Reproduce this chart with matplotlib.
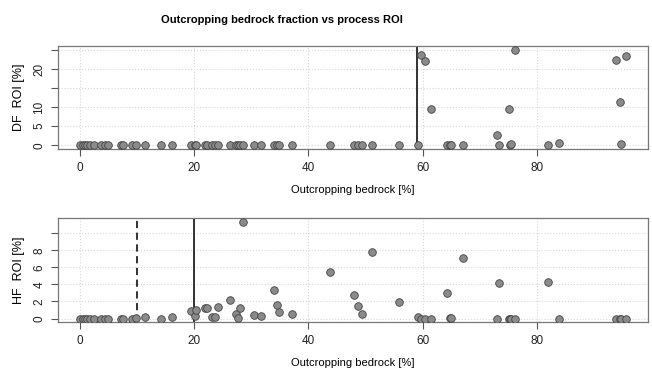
import matplotlib
matplotlib.use('Agg')
import matplotlib.pyplot as plt

# Data
bedrock = [0.0, 0.5, 0.9, 1.3, 1.8, 2.5, 3.7, 4.4, 5.0, 7.2, 7.6, 9.1, 9.8,
           11.4, 14.2, 16.1, 19.5, 20.2, 20.4, 21.9, 22.3, 23.1, 23.6, 24.1,
           26.3, 27.3, 27.6, 28.0, 28.6, 30.5, 31.7, 34.0, 34.5, 34.8, 37.1,
           43.8, 48.0, 48.7, 49.4, 51.1, 55.8, 59.2, 59.6, 60.4, 61.4,
           64.2, 64.7, 65.0, 67.1, 73.0, 73.4, 75.0, 75.3, 75.5, 76.2,
           81.9, 83.9, 93.8, 94.5, 94.6, 95.6]
df_roi = [0, 0, 0, 0, 0, 0, 0, 0, 0, 0, 0, 0, 0,
          0, 0, 0, 0, 0, 0, 0, 0, 0, 0, 0,
          0, 0, 0, 0, 0, 0, 0, 0, 0, 0, 0,
          0, 0, 0, 0, 0, 0, 0, 23.8, 22.0, 9.4,
          0, 0, 0, 0, 2.7, 0, 9.4, 0, 0.3, 25.1,
          0, 0.5, 22.3, 11.4, 0.3, 23.3]
hf_roi = [0, 0, 0, 0, 0, 0, 0, 0, 0, 0, 0, 0, 0.05,
          0.15, 0, 0.15, 0.86, 0.35, 0.98, 1.29, 1.25, 0.15, 0.15, 1.4,
          2.15, 0.55, 0.1, 1.2, 11.37, 0.39, 0.27, 3.33, 1.53, 0.74, 0.55,
          5.5, 2.74, 1.45, 0.5, 7.8, 1.96, 0.2, 0, 0, 0,
          2.94, 0.1, 0.1, 7.06, 0, 4.15, 0, 0, 0, 0,
          4.3, 0, 0, 0, 0, 0]

df_threshold = 59.0
hf_thresholds = [10.0, 20.0]

df_ticks = [0, 5, 10, 15, 20, 25]
df_labels = ['0', '5', '10', '', '20', '']
hf_ticks = [0, 2, 4, 6, 8, 10]
hf_labels = ['0', '2', '4', '6', '8', '']
x_ticks = [0, 20, 40, 60, 80]

plt.rcParams['font.family'] = ['Liberation Sans', 'DejaVu Sans']

fig = plt.figure(figsize=(6.52, 3.74), dpi=100)
ax1 = fig.add_axes([0.089, 0.6016, 0.905, 0.276])
ax2 = fig.add_axes([0.089, 0.138, 0.905, 0.28])

def style(ax, yticks, ylabels, ylabel):
    ax.set_xlim(-3.8, 99.4)
    ax.set_xticks(x_ticks)
    ax.set_yticks(yticks)
    ax.set_yticklabels(ylabels, rotation=90, va='center')
    ax.grid(True, color='#d8d8d8', linestyle=':', linewidth=0.8)
    ax.set_axisbelow(True)
    for s in ax.spines.values():
        s.set_color('#777777')
        s.set_linewidth(0.9)
    ax.tick_params(length=5, width=0.8, color='#555555', labelsize=8.5,
                   labelcolor='#222222', pad=4)
    ax.set_ylabel(ylabel, fontsize=9, labelpad=6)
    ax.set_xlabel('Outcropping bedrock [%]', fontsize=8, labelpad=8)

ax1.scatter(bedrock, df_roi, s=30, c='#8a8a8a', edgecolors='#444444',
            linewidths=0.6, zorder=3)
ax1.axvline(df_threshold, color='#222222', linewidth=1.3, zorder=2)
ax1.set_ylim(-1.0, 26.1)
style(ax1, df_ticks, df_labels, 'DF  ROI [%]')

ax2.scatter(bedrock, hf_roi, s=30, c='#8a8a8a', edgecolors='#444444',
            linewidths=0.6, zorder=3)
ax2.axvline(hf_thresholds[0], color='#222222', linewidth=1.3,
            linestyle=(0, (4, 2.5)), zorder=2)
ax2.axvline(hf_thresholds[1], color='#222222', linewidth=1.3, zorder=2)
ax2.set_ylim(-0.45, 11.82)
style(ax2, hf_ticks, hf_labels, 'HF  ROI [%]')

fig.text(0.433, 0.946, 'Outcropping bedrock fraction vs process ROI',
         ha='center', va='center', fontsize=8, fontweight='bold')

fig.savefig('out.png', dpi=100)
